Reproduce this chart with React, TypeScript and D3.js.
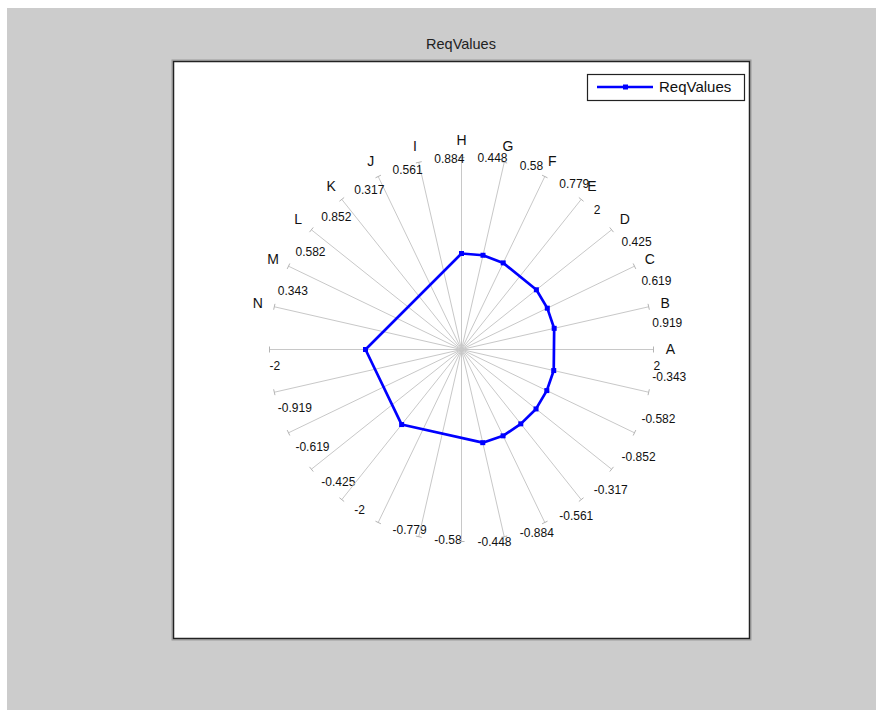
import React from 'react';
import * as d3 from 'd3';

// axis names, one per diameter (A at 3 o'clock, going counter-clockwise)
const AXES = ['A', 'B', 'C', 'D', 'E', 'F', 'G', 'H', 'I', 'J', 'K', 'L', 'M', 'N'];
// max value of each axis (shown at the + end, its negative at the opposite end)
const AXIS_MAX = [2, 0.919, 0.619, 0.425, 2, 0.779, 0.58, 0.448, 0.884, 0.561, 0.317, 0.852, 0.582, 0.343];
// series values
const REQ_VALUES = [-1.0, 0.455, 0.307, 0.212, -1.0, 0.39, 0.292, 0.224, -0.44, -0.28, -0.157, -0.423, -0.287, -0.169];
const SERIES_NAME = 'ReqValues';

const W = 876;
const H = 710;
const FONT = '"Liberation Sans", Arial, sans-serif';
const BLUE = '#0000ff';

export default function App() {
  const cx = 461.5;
  const cy = 349.5;
  const R = 192;

  const angle = d3.scaleLinear().domain([0, AXES.length]).range([0, Math.PI]);
  const radial = AXIS_MAX.map((m) => d3.scaleLinear().domain([-m, m]).range([-R, R]));

  const pt = (a: number, r: number): [number, number] => [cx + r * Math.cos(a), cy - r * Math.sin(a)];

  // series points, ordered by their angle around the centre
  const points = REQ_VALUES.map((v, i) => {
    const r = radial[i](v);
    const [x, y] = pt(angle(i), r);
    let a = Math.atan2(cy - y, x - cx);
    if (a < 0) a += Math.PI * 2;
    return { x, y, a };
  }).sort((p, q) => p.a - q.a);

  const line = d3
    .line<{ x: number; y: number }>()
    .x((d) => d.x)
    .y((d) => d.y)
    .curve(d3.curveLinearClosed);

  return (
    <svg
      width={W}
      height={H}
      style={{ position: 'fixed', left: 0, top: 0, display: 'block' }}
      fontFamily={FONT}
    >
      <rect x={7} y={8} width={W - 7} height={H - 8} fill="#cccccc" />
      <text x={461} y={44} textAnchor="middle" dy="0.35em" fontSize={14.5} fill="#222">
        {SERIES_NAME}
      </text>

      {/* plot frame */}
      <rect x={172} y={60} width={579} height={580} fill="none" stroke="#9a9a9a" strokeWidth={1} />
      <rect x={173.5} y={61.5} width={576} height={577} fill="#ffffff" stroke="#222" strokeWidth={1.5} />

      {/* spokes */}
      {AXES.map((name, i) => {
        const a = angle(i);
        const [x1, y1] = pt(a, radial[i](AXIS_MAX[i]));
        const [x2, y2] = pt(a, radial[i](-AXIS_MAX[i]));
        const px = 3 * Math.sin(a);
        const py = 3 * Math.cos(a);
        const ox = 16 * Math.sin(a);
        const oy = 16 * Math.cos(a);
        const [lx, ly] = pt(a, R + 17);
        return (
          <g key={name}>
            <line x1={x1} y1={y1} x2={x2} y2={y2} stroke="#c8c8c8" strokeWidth={1} />
            <line x1={x1 - px} y1={y1 - py} x2={x1 + px} y2={y1 + py} stroke="#b4b4b4" />
            <line x1={x2 - px} y1={y2 - py} x2={x2 + px} y2={y2 + py} stroke="#b4b4b4" />
            <text x={lx} y={ly} textAnchor="middle" dy="0.35em" fontSize={14} fill="#111">
              {name}
            </text>
            <text x={x1 + ox} y={y1 + oy} dy="0.35em" fontSize={12} fill="#111">
              {String(AXIS_MAX[i])}
            </text>
            <text x={x2 + ox} y={y2 + oy} dy="0.35em" fontSize={12} fill="#111">
              {String(-AXIS_MAX[i])}
            </text>
          </g>
        );
      })}

      {/* series */}
      <path d={line(points) || ''} fill="none" stroke={BLUE} strokeWidth={2.7} strokeLinejoin="round" />
      {points.map((p, i) => (
        <rect key={i} x={p.x - 2.5} y={p.y - 2.5} width={5} height={5} fill={BLUE} />
      ))}

      {/* legend */}
      <rect x={587.5} y={74.5} width={157} height={26} fill="#fff" stroke="#222" strokeWidth={1.2} />
      <line x1={597} y1={87} x2={653} y2={87} stroke={BLUE} strokeWidth={2.5} />
      <rect x={623} y={84.5} width={5} height={5} fill={BLUE} />
      <text x={659} y={87} dy="0.35em" fontSize={15} fill="#111">
        {SERIES_NAME}
      </text>
    </svg>
  );
}
